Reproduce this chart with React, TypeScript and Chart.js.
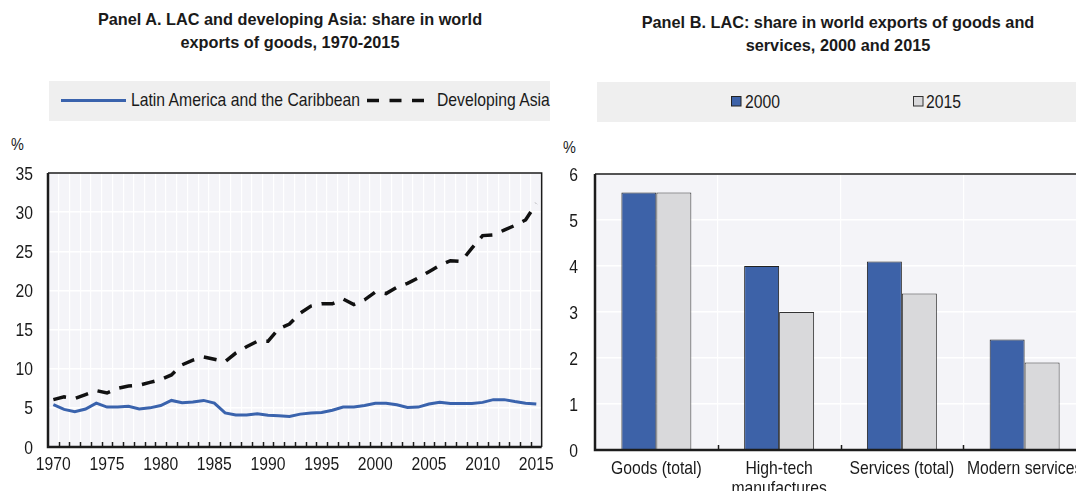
import React, { useEffect, useRef } from "react";
import { Chart, registerables } from "chart.js";

Chart.register(...registerables);

// ---------- Data ----------
const years = [
  "1970", "1971", "1972", "1973", "1974", "1975", "1976", "1977", "1978", "1979",
  "1980", "1981", "1982", "1983", "1984", "1985", "1986", "1987", "1988", "1989",
  "1990", "1991", "1992", "1993", "1994", "1995", "1996", "1997", "1998", "1999",
  "2000", "2001", "2002", "2003", "2004", "2005", "2006", "2007", "2008", "2009",
  "2010", "2011", "2012", "2013", "2014", "2015",
];
const lacShare = [
  5.4, 4.8, 4.5, 4.85, 5.6, 5.1, 5.1, 5.2, 4.85, 5.0,
  5.3, 5.95, 5.65, 5.75, 5.95, 5.6, 4.35, 4.1, 4.1, 4.25,
  4.05, 4.0, 3.9, 4.2, 4.35, 4.4, 4.7, 5.1, 5.1, 5.3,
  5.6, 5.6, 5.4, 5.05, 5.1, 5.5, 5.7, 5.55, 5.55, 5.55,
  5.7, 6.05, 6.05, 5.8, 5.6, 5.5,
];
const asiaShare = [
  6.05, 6.4, 6.2, 6.7, 7.2, 6.9, 7.5, 7.8, 7.9, 8.25,
  8.6, 9.2, 10.5, 11.1, 11.5, 11.2, 10.9, 12.0, 12.8, 13.5,
  13.5, 15.1, 15.7, 17.1, 18.0, 18.3, 18.3, 18.9, 18.2, 18.8,
  19.8, 19.6, 20.4, 20.9, 21.6, 22.4, 23.2, 23.8, 23.7, 25.4,
  27.0, 27.1, 27.7, 28.3, 29.0, 31.1,
];
const seriesANames = ["Latin America and the Caribbean", "Developing Asia"];

const barCategories: (string | string[])[] = [
  "Goods (total)",
  ["High-tech", "manufactures"],
  "Services (total)",
  "Modern services",
];
const bar2000 = [5.6, 4.0, 4.1, 2.4];
const bar2015 = [5.6, 3.0, 3.4, 1.9];
const seriesBNames = ["2000", "2015"];

// ---------- Styles ----------
const FONT = "'Liberation Sans', Arial, Helvetica, sans-serif";
const BLUE = "#3d62a8";
const GREY = "#d9d9db";
const PLOT_BG = "#f4f4f8";
const AXIS = "#1c1c1c";
const TEXT = "#1a1a1a";
const TICK_SIZE = 18.5;
const SQUEEZE = 0.85; // emulate a condensed face

type DecorOpts = { tickLen: number; xBase: number; yPad: number; lineGap: number };

const plotDecor = (o: DecorOpts) => ({
  id: "plotDecor",
  beforeDraw(chart: any) {
    const { ctx, chartArea: a } = chart;
    ctx.save();
    ctx.fillStyle = PLOT_BG;
    ctx.fillRect(a.left, a.top, a.right - a.left, a.bottom - a.top);
    ctx.restore();
  },
  afterDraw(chart: any) {
    const { ctx, chartArea: a } = chart;
    const xs = chart.scales.x;
    const ys = chart.scales.y;
    ctx.save();
    ctx.strokeStyle = AXIS;
    const n = xs.getLabels().length;
    const w = xs.getPixelForValue(1) - xs.getPixelForValue(0);
    ctx.lineWidth = 1.5;
    ctx.beginPath();
    for (let i = 1; i < n; i++) {
      const x = Math.round(xs.getPixelForValue(i) - w / 2) + 0.5;
      ctx.moveTo(x, a.bottom);
      ctx.lineTo(x, a.bottom - o.tickLen);
    }
    ctx.stroke();
    ctx.beginPath();
    ctx.moveTo(a.left, a.top);
    ctx.lineTo(a.right, a.top);
    ctx.lineTo(a.right, a.bottom);
    ctx.stroke();
    ctx.lineWidth = 2.5;
    ctx.beginPath();
    ctx.moveTo(a.left, a.top);
    ctx.lineTo(a.left, a.bottom);
    ctx.lineTo(a.right, a.bottom);
    ctx.stroke();

    // condensed tick labels, positioned by the scales
    ctx.fillStyle = TEXT;
    ctx.font = `${TICK_SIZE}px ${FONT}`;
    ctx.textBaseline = "alphabetic";
    ctx.textAlign = "center";
    xs.ticks.forEach((t: any, i: number) => {
      const lbl = t.label;
      if (lbl === undefined || lbl === null || lbl === "") return;
      const lines = Array.isArray(lbl) ? lbl : [lbl];
      const x = xs.getPixelForTick(i);
      lines.forEach((ln: string, k: number) => {
        ctx.save();
        ctx.translate(x, a.bottom + o.xBase + k * o.lineGap);
        ctx.scale(SQUEEZE, 1);
        ctx.fillText(ln, 0, 0);
        ctx.restore();
      });
    });
    ctx.textAlign = "right";
    ys.ticks.forEach((t: any, i: number) => {
      const y = ys.getPixelForTick(i);
      ctx.save();
      ctx.translate(a.left - o.yPad, y + 6.6);
      ctx.scale(SQUEEZE, 1);
      ctx.fillText(String(t.label), 0, 0);
      ctx.restore();
    });
    ctx.restore();
  },
});

const hiddenTicks = { color: "rgba(0,0,0,0)", font: { family: FONT, size: TICK_SIZE } };

function PanelA() {
  const ref = useRef<HTMLCanvasElement>(null);
  useEffect(() => {
    if (!ref.current) return;
    const chart = new Chart(ref.current, {
      type: "line",
      data: {
        labels: years,
        datasets: [
          {
            label: seriesANames[0],
            data: lacShare,
            borderColor: "#3a63ad",
            borderWidth: 3,
            pointRadius: 0,
            tension: 0,
          },
          {
            label: seriesANames[1],
            data: asiaShare,
            borderColor: "#111111",
            borderWidth: 3.5,
            borderDash: [13, 10],
            pointRadius: 0,
            tension: 0,
          },
        ],
      },
      options: {
        animation: false,
        responsive: false,
        maintainAspectRatio: false,
        layout: { padding: { top: 43, right: 12, left: 0, bottom: 0 } },
        plugins: { legend: { display: false }, tooltip: { enabled: false } },
        scales: {
          x: {
            type: "category",
            offset: true,
            grid: { color: "#ffffff", lineWidth: 1.2, drawTicks: false, offset: true },
            border: { display: false },
            ticks: {
              ...hiddenTicks,
              autoSkip: false,
              maxRotation: 0,
              callback: (_v: any, i: number) => (Number(years[i]) % 5 === 0 ? years[i] : ""),
            },
            afterFit: (s: any) => {
              s.height = 44;
            },
          },
          y: {
            min: 0,
            max: 35,
            ticks: { ...hiddenTicks, stepSize: 5 },
            grid: { color: "#ffffff", lineWidth: 1.5, drawTicks: false },
            border: { display: false },
            afterFit: (s: any) => {
              s.width = 48;
            },
          },
        },
      },
      plugins: [plotDecor({ tickLen: 5, xBase: 23, yPad: 15, lineGap: 20 })],
    });
    return () => chart.destroy();
  }, []);
  return (
    <canvas
      ref={ref}
      width={560}
      height={361}
      style={{ position: "absolute", left: 0, top: 130, width: 560, height: 361 }}
    />
  );
}

function PanelB() {
  const ref = useRef<HTMLCanvasElement>(null);
  useEffect(() => {
    if (!ref.current) return;
    const chart = new Chart(ref.current, {
      type: "bar",
      data: {
        labels: barCategories,
        datasets: [
          {
            label: seriesBNames[0],
            data: bar2000,
            backgroundColor: BLUE,
            borderColor: "#222222",
            borderWidth: 1,
          },
          {
            label: seriesBNames[1],
            data: bar2015,
            backgroundColor: GREY,
            borderColor: "#333333",
            borderWidth: 1,
          },
        ],
      },
      options: {
        animation: false,
        responsive: false,
        maintainAspectRatio: false,
        layout: { padding: { top: 44, right: 69, left: 0, bottom: 0 } },
        plugins: { legend: { display: false }, tooltip: { enabled: false } },
        datasets: { bar: { categoryPercentage: 0.57, barPercentage: 1.0 } },
        scales: {
          x: {
            grid: { color: "#ffffff", lineWidth: 1.2, drawTicks: false, offset: true },
            border: { display: false },
            ticks: { ...hiddenTicks, autoSkip: false, maxRotation: 0 },
            afterFit: (s: any) => {
              s.height = 41;
            },
          },
          y: {
            min: 0,
            max: 6,
            ticks: { ...hiddenTicks, stepSize: 1 },
            grid: { color: "#ffffff", lineWidth: 1.5, drawTicks: false },
            border: { display: false },
            afterFit: (s: any) => {
              s.width = 40;
            },
          },
        },
      },
      plugins: [plotDecor({ tickLen: 5, xBase: 23.5, yPad: 17, lineGap: 20 })],
    });
    return () => chart.destroy();
  }, []);
  return (
    <canvas
      ref={ref}
      width={600}
      height={361}
      style={{ position: "absolute", left: 555, top: 130, width: 600, height: 361 }}
    />
  );
}

const titleStyle: React.CSSProperties = {
  position: "absolute",
  fontFamily: FONT,
  fontWeight: "bold",
  fontSize: 16.3,
  lineHeight: "23px",
  color: TEXT,
  textAlign: "center",
  whiteSpace: "nowrap",
};

function Narrow(props: { left: number; top: number; size?: number; children: React.ReactNode }) {
  return (
    <div
      style={{
        position: "absolute",
        left: props.left,
        top: props.top,
        fontFamily: FONT,
        fontSize: props.size ?? TICK_SIZE,
        lineHeight: "20px",
        color: TEXT,
        whiteSpace: "nowrap",
        transform: `scaleX(${SQUEEZE})`,
        transformOrigin: "left center",
      }}
    >
      {props.children}
    </div>
  );
}

export default function App() {
  return (
    <div
      style={{
        position: "absolute",
        left: 0,
        top: 0,
        width: 1076,
        height: 491,
        overflow: "hidden",
        background: "#ffffff",
      }}
    >
      {/* Titles */}
      <div style={{ ...titleStyle, left: 40, width: 500, top: 8 }}>
        Panel A. LAC and developing Asia: share in world
        <br />
        exports of goods, 1970-2015
      </div>
      <div style={{ ...titleStyle, left: 588, width: 500, top: 11 }}>
        Panel B. LAC: share in world exports of goods and
        <br />
        services, 2000 and 2015
      </div>

      {/* Legend backgrounds */}
      <div
        style={{ position: "absolute", left: 49, top: 81, width: 501, height: 40, background: "#efefef" }}
      />
      <div
        style={{ position: "absolute", left: 597, top: 82, width: 479, height: 40, background: "#efefef" }}
      />
      <svg style={{ position: "absolute", left: 0, top: 0 }} width={1076} height={130}>
        <line x1={61} y1={100.5} x2={126} y2={100.5} stroke="#3a63ad" strokeWidth={3} />
        <line
          x1={367}
          y1={100.5}
          x2={429}
          y2={100.5}
          stroke="#111111"
          strokeWidth={3.5}
          strokeDasharray="12 10.5"
        />
        <rect x={731.5} y={96.5} width={9.5} height={9.5} fill={BLUE} stroke="#222" strokeWidth={1} />
        <rect x={913.5} y={96.5} width={9.5} height={9.5} fill={GREY} stroke="#333" strokeWidth={1} />
      </svg>
      <Narrow left={130.5} top={90}>{seriesANames[0]}</Narrow>
      <Narrow left={436.5} top={90}>{seriesANames[1]}</Narrow>
      <Narrow left={744.5} top={92}>{seriesBNames[0]}</Narrow>
      <Narrow left={925.5} top={92}>{seriesBNames[1]}</Narrow>

      {/* unit labels */}
      <Narrow left={11} top={135} size={17}>%</Narrow>
      <Narrow left={563} top={138} size={17}>%</Narrow>

      <PanelA />
      <PanelB />
    </div>
  );
}
